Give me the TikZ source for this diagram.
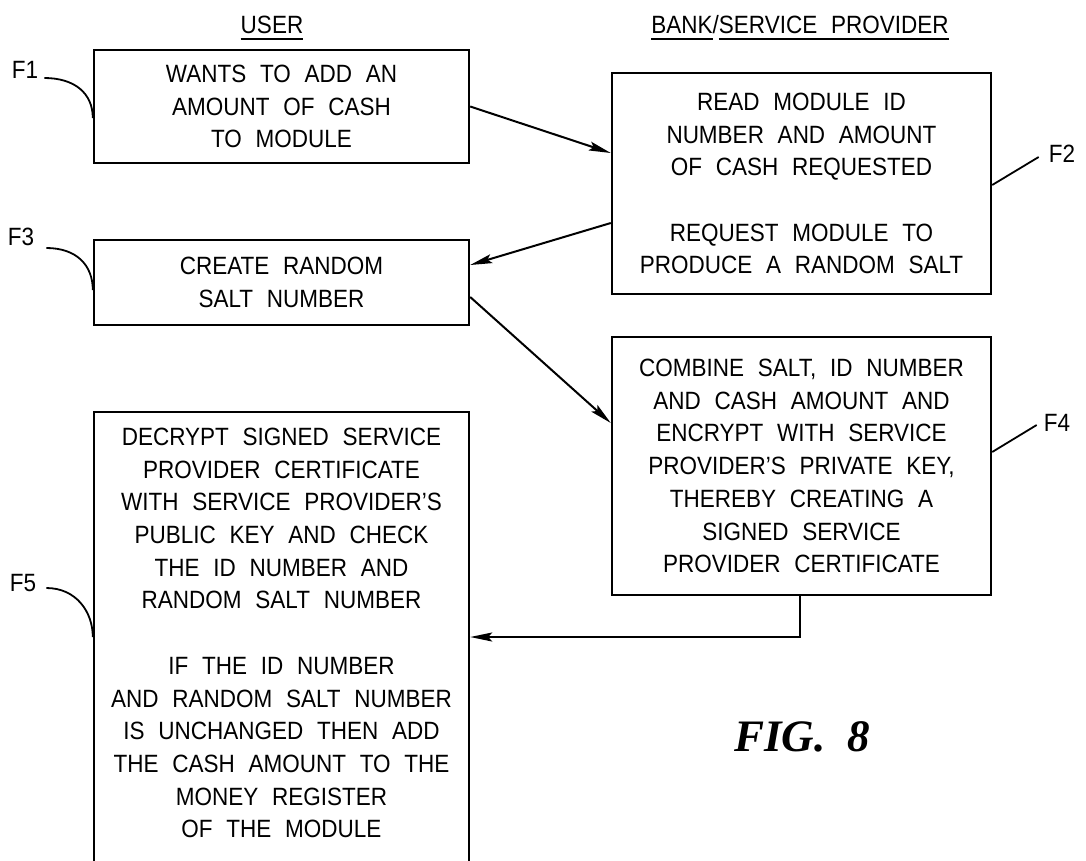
\documentclass[tikz,border=0pt]{standalone}
\usepackage{fontspec}
\setmainfont{Liberation Sans}[FakeStretch=0.9, WordSpace=2.2]
\newfontfamily\figfont{Liberation Serif}
\usetikzlibrary{arrows.meta,calc}
\newcommand\hdrul[1]{\leavevmode\vtop{\hbox{#1}\kern5pt\hrule height 1.7pt}}
\begin{document}
\begin{tikzpicture}[x=1pt,y=-1pt,
  every node/.style={font=\fontsize{25}{32.7}\selectfont},
  box/.style={draw, line width=2.4pt, align=center, inner sep=0pt},
  arr/.style={line width=2pt, -{Stealth[length=22pt,width=9pt,inset=4pt]}},
  lead/.style={line width=1.8pt},
  flab/.style={inner sep=0pt}]
\useasboundingbox (0,0) rectangle (1086,860);
% headers
\node[anchor=base, inner sep=0pt] (hU) at (272,33) {\hdrul{USER}};
\node[anchor=base, inner sep=0pt] (hB) at (800,33) {\hdrul{BANK}/\hdrul{SERVICE PROVIDER}};
% boxes
\node[box, minimum width=375pt, minimum height=113pt] (F1) at (281.5,106.5)
  {WANTS TO ADD AN\\AMOUNT OF CASH\\TO MODULE};
\node[box, minimum width=379pt, minimum height=221pt] (F2) at (801.5,183.5)
  {READ MODULE ID\\NUMBER AND AMOUNT\\OF CASH REQUESTED\\[32.7pt]REQUEST MODULE TO\\PRODUCE A RANDOM SALT};
\node[box, minimum width=375pt, minimum height=85pt] (F3) at (281.5,282.5)
  {CREATE RANDOM\\SALT NUMBER};
\node[box, minimum width=379pt, minimum height=258pt] (F4) at (801.5,466)
  {COMBINE SALT, ID NUMBER\\AND CASH AMOUNT AND\\ENCRYPT WITH SERVICE\\PROVIDER'S PRIVATE KEY,\\THEREBY CREATING A\\SIGNED SERVICE\\PROVIDER CERTIFICATE};
\node[box, minimum width=375pt, minimum height=480pt, anchor=north] (F5) at (281.5,411) {};
\node[align=center, inner sep=0pt] (F5t) at (281.5,633)
  {DECRYPT SIGNED SERVICE\\PROVIDER CERTIFICATE\\WITH SERVICE PROVIDER'S\\PUBLIC KEY AND CHECK\\THE ID NUMBER AND\\RANDOM SALT NUMBER\\[32.7pt]IF THE ID NUMBER\\AND RANDOM SALT NUMBER\\IS UNCHANGED THEN ADD\\THE CASH AMOUNT TO THE\\MONEY REGISTER\\OF THE MODULE};
% connectors
\draw[arr] (F1.east) -- ([yshift=30.5pt]F2.west);
\draw[arr] ([yshift=-39.5pt]F2.west) -- ([yshift=17.5pt]F3.east);
\draw[arr] ([yshift=-14.5pt]F3.east) -- ([yshift=43pt]F4.west);
\coordinate (c4) at (800,637);
\draw[arr] (F4.south -| c4) -- (c4) -- (c4 -| F5.east);
% labels and leaders
\node[flab] (L1) at (25,70) {F1};
\node[flab] (L2) at (1062,154) {F2};
\node[flab] (L3) at (21,237) {F3};
\node[flab] (L4) at (1057,423) {F4};
\node[flab] (L5) at (23,583) {F5};
\draw[lead] ([shift={(6pt,-8pt)}]L1.east) .. controls +(30,0) and +(0,-25) .. (F1.west |- 0,118);
\draw[lead] ([shift={(12pt,-11pt)}]L3.east) .. controls +(30,0) and +(0,-25) .. (F3.west |- 0,290);
\draw[lead] ([shift={(10pt,-5pt)}]L5.east) .. controls +(30,0) and +(0,-25) .. (F5.west |- 0,637);
\draw[lead] ([yshift=-1.5pt]F2.east) -- ([shift={(-10pt,-3pt)}]L2.west);
\draw[lead] ([yshift=14pt]F4.east) -- ([shift={(-7pt,-2pt)}]L4.west);
% figure caption
\node[font=\figfont\bfseries\itshape\fontsize{45}{50}\selectfont, anchor=base west, inner sep=0pt] (fig) at (734,751) {FIG.\ \ 8};
\end{tikzpicture}
\end{document}
